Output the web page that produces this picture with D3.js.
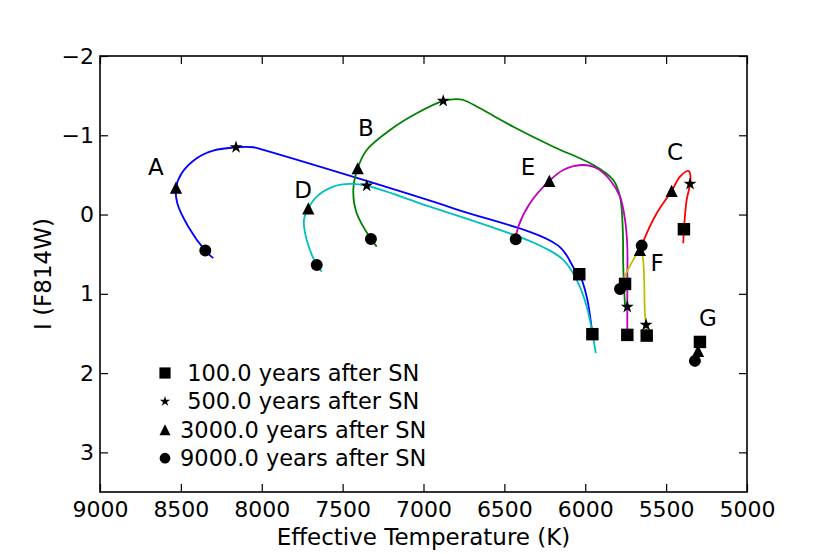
<!DOCTYPE html>
<html>
<head>
<meta charset="utf-8">
<script src="https://cdn.jsdelivr.net/npm/d3@7"></script>
<style>
	body	{ margin:0; background:#fff; }
	text	{ font-family:"DejaVu Sans", sans-serif; fill:#000; }
</style>
</head>
<body>
<svg id="chart" width="830" height="554"></svg>
<script>
// tracks: [Teff (K), I (F814W)]
var trackA = [[8300,0.55],[8349,0.455],[8454,0.153],[8522,-0.142],[8530,-0.339],[8495,-0.521],[8402,-0.71],[8300,-0.806],[8159,-0.849],[8052,-0.849],[7990,-0.815],[6816,-0.079],[6167,0.392],[6063,0.699],[6037,0.753],[5991,1.035],[5956,1.509]];
var trackB = [[7289,0.405],[7325,0.308],[7413,-0.016],[7434,-0.31],[7407,-0.584],[7351,-0.815],[7207,-1.067],[7042,-1.277],[6878,-1.433],[6816,-1.454],[6754,-1.445],[6651,-1.34],[6445,-1.108],[6197,-0.856],[5950,-0.625],[5827,-0.436],[5785,-0.226],[5768,0.194],[5765,0.657],[5754,1.161]];
var trackC = [[5394,0.362],[5390,0.185],[5373,-0.184],[5352,-0.386],[5352,-0.521],[5363,-0.55],[5414,-0.478],[5466,-0.298],[5558,-0.016],[5620,0.236],[5651,0.392]];
var trackD = [[7629,0.72],[7660,0.636],[7722,0.32],[7739,0.068],[7712,-0.079],[7660,-0.226],[7558,-0.352],[7454,-0.386],[7351,-0.364],[7022,-0.142],[6311,0.362],[6136,0.572],[6053,0.825],[5991,1.161],[5935,1.749]];
var trackE = [[6430,0.383],[6430,0.311],[6414,0.153],[6342,-0.142],[6222,-0.424],[6136,-0.562],[6022,-0.625],[5929,-0.584],[5847,-0.436],[5785,-0.226],[5754,0.068],[5740,0.405],[5740,0.825],[5740,1.518]];
var trackF = [[5791,1.014],[5765,0.825],[5703,0.572],[5662,0.446],[5645,0.531],[5631,1.245],[5624,1.392],[5620,1.527]];
var trackG = [[5291,1.607],[5303,1.72],[5322,1.846]];

var tracks	= [trackA, trackB, trackC, trackD, trackE, trackF, trackG];
var trackColors	= ["#0000ff","#008000","#ff0000","#00bfbf","#bf00bf","#bfbf00","#000000"];

// markers at given ages, one per track
var at100	= [[6037,0.753],[5754,0.875],[5390,0.185],[5956,1.509],[5740,1.518],[5620,1.527],[5291,1.607]];
var at500	= [[8159,-0.849],[6878,-1.433],[5352,-0.386],[7351,-0.364],[5740,1.165],[5624,1.392]];
var at3000	= [[8530,-0.339],[7407,-0.584],[5466,-0.298],[7712,-0.079],[6222,-0.424],[5662,0.446],[5303,1.72]];
var at9000	= [[8349,0.455],[7325,0.308],[5651,0.392],[7660,0.636],[6430,0.311],[5785,0.938],[5322,1.846]];

var trackNames	= ["A","B","C","D","E","F","G"];
var namePos	= [[8654,-0.6],[7356,-1.092],[5445,-0.789],[7745,-0.31],[6354,-0.6],[5556,0.61],[5241,1.304]];

var legendLabels = [" 100.0 years after SN"," 500.0 years after SN","3000.0 years after SN","9000.0 years after SN"];

var xTicks	= [9000,8500,8000,7500,7000,6500,6000,5500,5000];
var yTicks	= [-2,-1,0,1,2,3];

var svg	= d3.select('#chart');
var L = 100, R = 747, T = 56, B = 492;
var x	= d3.scaleLinear().domain([9000,5000]).range([L,R]);
var y	= d3.scaleLinear().domain([-2,3.5]).range([T,B]);

// matplotlib-ish triangle (base == height)
var tri = { draw: function(ctx, size) { var r = Math.sqrt(size)/2; ctx.moveTo(0,-r); ctx.lineTo(r,r); ctx.lineTo(-r,r); ctx.closePath(); } };
var symbols = [
	d3.symbol().type(d3.symbolSquare).size(155),
	d3.symbol().type(d3.symbolStar).size(52),
	d3.symbol().type(tri).size(150),
	d3.symbol().type(d3.symbolCircle).size(113)
];
var markerSets = [at100, at500, at3000, at9000];

// axes, ticks point inwards on all four sides
var fmt = d3.format("d");
svg.append('g').attr('transform','translate(0,'+B+')')
	.call(d3.axisBottom(x).tickValues(xTicks).tickFormat(fmt).tickSizeInner(-8).tickSizeOuter(0).tickPadding(9))
	.call(function(g){ g.select('.domain').remove(); g.selectAll('text').style('font-size','22px').style('font-family','DejaVu Sans'); });
svg.append('g').attr('transform','translate(0,'+T+')')
	.call(d3.axisTop(x).tickValues(xTicks).tickFormat('').tickSizeInner(-8).tickSizeOuter(0))
	.call(function(g){ g.select('.domain').remove(); });
svg.append('g').attr('transform','translate('+L+',0)')
	.call(d3.axisLeft(y).tickValues(yTicks).tickFormat(fmt).tickSizeInner(-8).tickSizeOuter(0).tickPadding(6))
	.call(function(g){ g.select('.domain').remove(); g.selectAll('text').style('font-size','22px').style('font-family','DejaVu Sans'); });
svg.append('g').attr('transform','translate('+R+',0)')
	.call(d3.axisRight(y).tickValues(yTicks).tickFormat('').tickSizeInner(-8).tickSizeOuter(0))
	.call(function(g){ g.select('.domain').remove(); });
svg.selectAll('.tick line').attr('stroke','#000').attr('stroke-width',1.2);

// tracks
var line = d3.line().x(function(d){return x(d[0]);}).y(function(d){return y(d[1]);}).curve(d3.curveCatmullRom.alpha(0.5));
svg.append('g').selectAll('path').data(tracks).enter().append('path')
	.attr('d', line).attr('fill','none').attr('stroke-width',1.8)
	.attr('stroke', function(d,i){return trackColors[i];});

// age markers, circles end up on top
markerSets.forEach(function(set, k) {
	svg.append('g').selectAll('path').data(set).enter().append('path')
		.attr('d', symbols[k]).attr('fill','#000')
		.attr('transform', function(d){return 'translate('+x(d[0])+','+y(d[1])+')';});
});

// track letters
svg.append('g').selectAll('text').data(namePos).enter().append('text')
	.attr('x', function(d){return x(d[0]);}).attr('y', function(d){return y(d[1])+8;})
	.attr('text-anchor','middle').style('font-size','23px')
	.text(function(d,i){return trackNames[i];});

// legend
var leg = svg.append('g').selectAll('g').data(legendLabels).enter().append('g')
	.attr('transform', function(d,i){return 'translate(165,'+(373+i*28.4)+')';});
leg.append('path').attr('d', function(d,i){return symbols[i]();}).attr('fill','#000')
	.attr('transform', function(d,i){return i==1?'scale(0.8)':'scale(0.9)';});
leg.append('text').attr('x',15).attr('y',8).style('font-size','22.5px').style('white-space','pre')
	.text(function(d){return d;});

// frame
svg.append('rect').attr('x',L).attr('y',T).attr('width',R-L).attr('height',B-T)
	.attr('fill','none').attr('stroke','#000').attr('stroke-width',1.6);

// axis titles
svg.append('text').attr('x',(L+R)/2).attr('y',545).attr('text-anchor','middle').style('font-size','23px').text('Effective Temperature (K)');
svg.append('text').attr('transform','translate(51,'+((T+B)/2)+') rotate(-90)').attr('text-anchor','middle').style('font-size','23px').text('I (F814W)');
</script>
</body>
</html>
